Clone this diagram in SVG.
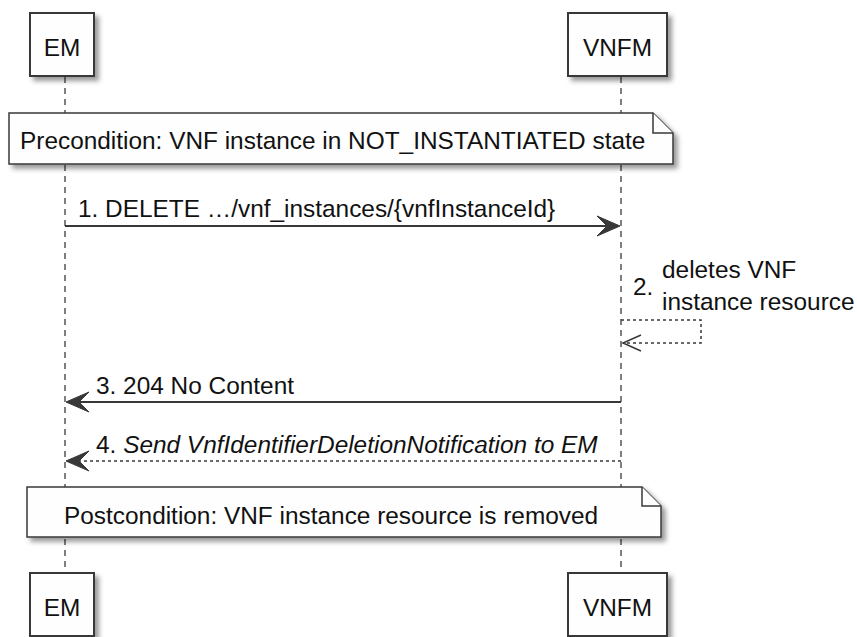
<svg xmlns="http://www.w3.org/2000/svg" width="857" height="637" viewBox="0 0 857 637">
<defs>
<style>
text{font-family:"Liberation Sans",Arial,sans-serif;font-size:24.4px;fill:#111}
.box{fill:#fefefe;stroke:#383838;stroke-width:2}
.note{fill:#fefefe;stroke:#383838;stroke-width:1.5}
.life{stroke:#555;stroke-width:1.5;stroke-dasharray:6,5;fill:none}
.msg{stroke:#383838;stroke-width:2;fill:none}
.dot{stroke:#383838;stroke-width:1.5;stroke-dasharray:3,3;fill:none}
.head{fill:#383838;stroke:#383838;stroke-width:1}
.it{font-style:italic}
</style>
<filter id="sh" x="-10%" y="-10%" width="130%" height="140%">
<feDropShadow dx="4" dy="4" stdDeviation="2.5" flood-color="#000" flood-opacity="0.4"/>
</filter>
</defs>
<g id="lifelines">
<line class="life" x1="65" y1="77" x2="65" y2="573"/>
<line class="life" x1="621" y1="77" x2="621" y2="573"/>
</g>
<g id="EM-top"><rect class="box" x="30" y="13" width="64" height="63" filter="url(#sh)"/><text x="62" y="56" text-anchor="middle">EM</text></g>
<g id="VNFM-top"><rect class="box" x="568" y="13" width="99" height="63" filter="url(#sh)"/><text x="617.5" y="56" text-anchor="middle">VNFM</text></g>
<g id="EM-bottom"><rect class="box" x="30" y="573" width="64" height="63" filter="url(#sh)"/><text x="62" y="616" text-anchor="middle">EM</text></g>
<g id="VNFM-bottom"><rect class="box" x="568" y="573" width="99" height="63" filter="url(#sh)"/><text x="617.5" y="616" text-anchor="middle">VNFM</text></g>
<g id="precondition">
<path class="note" d="M9,113 L653,113 L673,133 L673,164 L9,164 Z" filter="url(#sh)"/>
<path class="note" d="M653,113 L653,133 L673,133"/>
<text x="20" y="149">Precondition: VNF instance in NOT_INSTANTIATED state</text>
</g>
<g id="postcondition">
<path class="note" d="M27,487 L642,487 L661,506 L661,537 L27,537 Z" filter="url(#sh)"/>
<path class="note" d="M642,487 L642,506 L661,506"/>
<text x="64" y="524">Postcondition: VNF instance resource is removed</text>
</g>
<g id="connectors">
<line class="msg" x1="65" y1="226" x2="612" y2="226"/>
<polygon class="head" points="620,226 597,216 607,226 597,236"/>
<text x="78" y="217">1. DELETE …/vnf_instances/{vnfInstanceId}</text>
<polyline class="dot" points="621,320 701,320 701,343 623,343"/>
<polyline class="msg" style="stroke-width:1.5" points="641,335 623,343 641,351"/>
<text x="633" y="295">2.</text>
<text x="662" y="278">deletes VNF</text>
<text x="662" y="310">instance resource</text>
<line class="msg" x1="621" y1="402" x2="74" y2="402"/>
<polygon class="head" points="66,402 89,392 79,402 89,412"/>
<text x="96" y="394">3. 204 No Content</text>
<line class="dot" x1="621" y1="461" x2="74" y2="461"/>
<polygon class="head" points="66,461 89,451 79,461 89,471"/>
<text x="96" y="453">4. <tspan class="it">Send VnfIdentifierDeletionNotification to EM</tspan></text>
</g>
</svg>
